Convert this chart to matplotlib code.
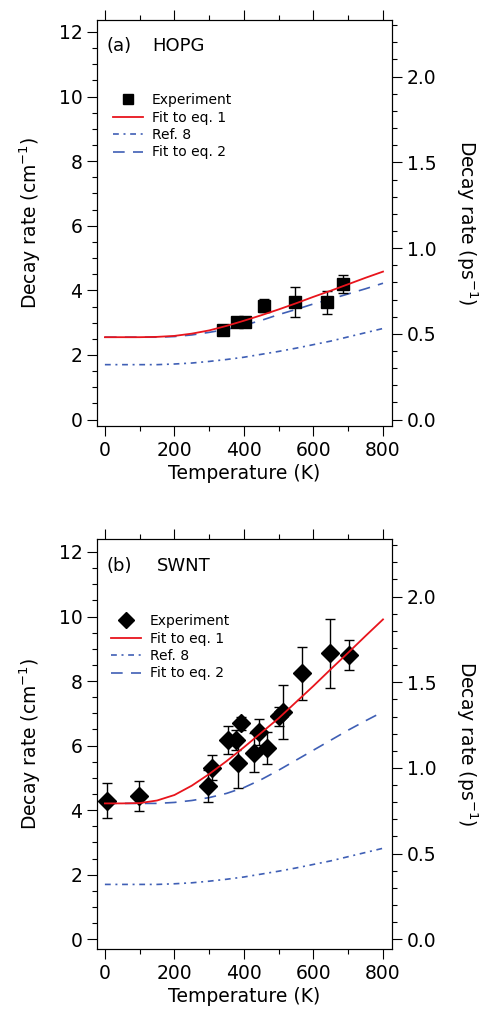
import matplotlib
matplotlib.use("Agg")
import matplotlib.pyplot as plt
from matplotlib.ticker import MultipleLocator, FormatStrFormatter
from matplotlib.lines import Line2D

T_fit = [0, 50, 100, 150, 200, 250, 300, 350, 400, 450, 500, 550, 600, 650, 700, 750, 800]

# (a) HOPG
hopg_T = [340, 379, 403, 459, 547, 638, 686]
hopg_rate = [2.78, 3.01, 3.01, 3.52, 3.63, 3.63, 4.19]
hopg_err = [0.10, 0.10, 0.10, 0.20, 0.47, 0.35, 0.27]
hopg_fit1 = [2.55, 2.55, 2.55, 2.56, 2.59, 2.66, 2.76, 2.90, 3.06, 3.23, 3.41,
             3.60, 3.80, 3.99, 4.19, 4.39, 4.58]
hopg_fit2 = [2.55, 2.55, 2.55, 2.55, 2.57, 2.62, 2.70, 2.79, 2.92, 3.07, 3.25,
             3.41, 3.58, 3.73, 3.89, 4.05, 4.22]

# Ref. 8 curve (same in both panels)
ref8 = [1.70, 1.70, 1.70, 1.70, 1.72, 1.75, 1.80, 1.86, 1.93, 2.02, 2.11,
        2.21, 2.32, 2.43, 2.56, 2.69, 2.82]

# (b) SWNT
swnt_T = [7, 97, 296, 308, 354, 377, 384, 391, 429, 443, 467, 501, 513, 566, 647, 701]
swnt_rate = [4.29, 4.44, 4.75, 5.32, 6.17, 6.17, 5.47, 6.69, 5.78, 6.43, 5.93,
             6.91, 7.05, 8.24, 8.86, 8.81]
swnt_err = [0.54, 0.46, 0.50, 0.39, 0.44, 0.30, 0.78, 0.20, 0.60, 0.40, 0.50,
            0.30, 0.83, 0.82, 1.06, 0.46]
swnt_fit1 = [4.21, 4.21, 4.22, 4.30, 4.47, 4.76, 5.12, 5.52, 5.95, 6.40, 6.85,
             7.35, 7.85, 8.37, 8.88, 9.40, 9.91]
swnt_fit2 = [4.21, 4.21, 4.21, 4.21, 4.24, 4.30, 4.39, 4.52, 4.70, 4.95, 5.24,
             5.55, 5.86, 6.17, 6.48, 6.77, 7.05]

CM_TO_PS = 0.1884  # 2*pi*c, cm^-1 -> ps^-1
red = "#e8141c"
blue = "#3f5fb5"
fs_tick = 13.5
dashdot = (0, (3.5, 2.8, 1.2, 2.8))
dashed = (0, (7, 5))

fig = plt.figure(figsize=(4.87, 10.18), dpi=100)
ax_a = fig.add_axes([0.199, 0.5815, 0.606, 0.3989])
ax_b = fig.add_axes([0.199, 0.0678, 0.606, 0.4027])


def draw_panel(ax, T, rate, err, marker, ms, fit1, fit2, tag, name, ylim, leg_xy, txt_y, name_x):
    ax.errorbar(T, rate, yerr=err, fmt=marker, color="k", ms=ms, ecolor="k",
                elinewidth=1, capsize=3.5, capthick=1, zorder=3)
    ax.plot(T_fit, fit1, color=red, lw=1.3, zorder=4)
    ax.plot(T_fit, ref8, color=blue, lw=1.2, ls=dashdot)
    ax.plot(T_fit, fit2, color=blue, lw=1.2, ls=dashed)
    ax.set_xlim(-23, 826)
    ax.set_ylim(*ylim)
    ax.xaxis.set_major_locator(MultipleLocator(200))
    ax.xaxis.set_minor_locator(MultipleLocator(100))
    ax.yaxis.set_major_locator(MultipleLocator(2))
    ax.yaxis.set_minor_locator(MultipleLocator(0.5))
    ax.tick_params(which="both", direction="out", top=True, labelsize=fs_tick, width=0.8, pad=3)
    ax.tick_params(which="major", length=7.5)
    ax.tick_params(which="minor", length=3.8)
    ax.set_xlabel("Temperature (K)", fontsize=fs_tick, labelpad=3)
    ax.set_ylabel(r"Decay rate (cm$^{-1}$)", fontsize=fs_tick, labelpad=11)
    for s in ax.spines.values():
        s.set_linewidth(0.8)

    ax2 = ax.twinx()
    ax2.set_ylim(ylim[0] * CM_TO_PS, ylim[1] * CM_TO_PS)
    ax2.yaxis.set_major_locator(MultipleLocator(0.5))
    ax2.yaxis.set_minor_locator(MultipleLocator(0.1))
    ax2.yaxis.set_major_formatter(FormatStrFormatter("%.1f"))
    ax2.tick_params(which="both", direction="out", labelsize=fs_tick, width=0.8, pad=3)
    ax2.tick_params(which="major", length=7.5)
    ax2.tick_params(which="minor", length=3.8)
    ax2.set_ylabel(r"Decay rate (ps$^{-1}$)", fontsize=fs_tick, rotation=270, labelpad=31)
    for s in ax2.spines.values():
        s.set_linewidth(0.8)

    ax.text(0.034, txt_y, tag, transform=ax.transAxes, fontsize=13, va="center", ha="left")
    ax.text(name_x, txt_y, name, transform=ax.transAxes, fontsize=13, va="center", ha="left")

    handles = [
        Line2D([], [], ls="none", marker=marker, color="k", ms=ms * 0.85),
        Line2D([], [], color=red, lw=1.3),
        Line2D([], [], color=blue, lw=1.2, ls=dashdot),
        Line2D([], [], color=blue, lw=1.2, ls=dashed),
    ]
    labels = ["Experiment", "Fit to eq. 1", "Ref. 8", "Fit to eq. 2"]
    ax.legend(handles, labels, loc="upper left", bbox_to_anchor=leg_xy, frameon=False,
              fontsize=10, borderpad=0, borderaxespad=0, handlelength=2.2,
              handletextpad=0.6, labelspacing=0.25)


draw_panel(ax_a, hopg_T, hopg_rate, hopg_err, "s", 8.6, hopg_fit1, hopg_fit2,
           "(a)", "HOPG", (-0.2, 12.37), (0.054, 0.82), 0.936, 0.186)
draw_panel(ax_b, swnt_T, swnt_rate, swnt_err, "D", 9.2, swnt_fit1, swnt_fit2,
           "(b)", "SWNT", (-0.3, 12.4), (0.047, 0.817), 0.934, 0.203)

fig.savefig("out.png", dpi=100)
